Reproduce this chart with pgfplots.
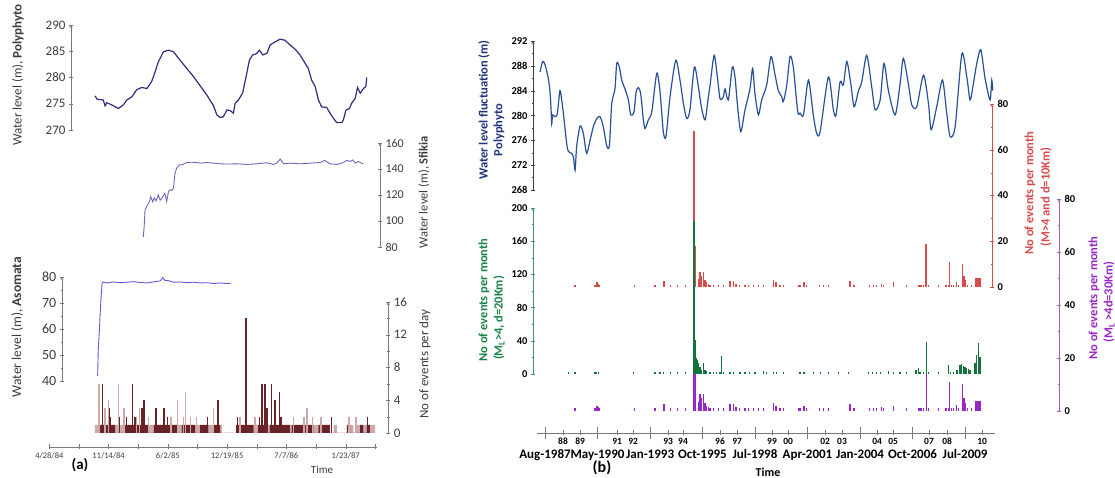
\documentclass[border=0pt]{standalone}
\usepackage{pgfplots}
\pgfplotsset{compat=1.18}
\usepackage{fontspec}
\setmainfont{Carlito}
\newcommand{\fs}[1]{\fontsize{#1}{#1}\selectfont}
\definecolor{txtgray}{RGB}{60,60,60}
\definecolor{axgray}{RGB}{120,120,120}
\definecolor{polyA}{RGB}{55,40,130}
\definecolor{sfik}{RGB}{105,105,185}
\definecolor{asom}{RGB}{105,85,215}
\definecolor{evdark}{RGB}{105,35,40}
\definecolor{evlight}{RGB}{205,170,170}
\definecolor{wlblue}{RGB}{40,80,150}
\definecolor{navy}{RGB}{30,50,125}
\definecolor{evred}{RGB}{215,75,75}
\definecolor{axred}{RGB}{210,80,80}
\definecolor{evgreen}{RGB}{20,115,60}
\definecolor{axgreen}{RGB}{70,145,115}
\definecolor{labgreen}{RGB}{25,130,70}
\definecolor{evpurple}{RGB}{150,40,200}
\definecolor{axpurple}{RGB}{165,90,200}

\pgfplotsset{
  base/.style={scale only axis, anchor=south west, clip=false,
    tick align=outside, axis line style={-},
    /pgf/number format/assume math mode=true, scaled ticks=false,
    major tick length=4pt, minor tick length=2.5pt},
  panel/.style={base, axis x line=none},
  leftp/.style={panel, axis line style={axgray}, tick style={axgray},
    yticklabel style={font=\fs{13}, text=txtgray}},
  rightp/.style={panel, yticklabel style={font=\bfseries\fs{10.5}},
    xmin=1986.954},
}

\begin{document}
\begin{tikzpicture}[x=1pt,y=1pt]
\useasboundingbox (0,0) rectangle (1115,478);

% ---------------- panel (a) ----------------
% Polyphyto
\begin{axis}[leftp, at={(71pt,348pt)}, width=305.8pt, height=105pt,
  xmin=73, xmax=1105, ymin=270, ymax=290, axis y line=left,
  ytick={270,275,280,285,290}]
\addplot[polyA, line width=1.2pt] coordinates {
(154,276.5)(162,275.8)(171,275.8)(182,275.7)(188,274.6)(194,275.2)(210,274.8)
(233,274.1)(250,274.8)(261,275.7)(278,276.3)(295,277.7)(312,278.1)(329,277.9)
(345,279.2)(357,281.1)(368,283.0)(385,284.9)(402,285.2)(419,284.9)(441,283.3)
(464,281.7)(486,280.2)(509,278.4)(531,276.7)(554,274.6)(565,272.9)(576,272.4)
(587,272.5)(599,273.8)(610,273.7)(621,273.2)(627,275.1)(638,275.7)(652,277.0)
(664,280.2)(675,283.3)(686,284.3)(698,284.5)(709,285.2)(720,284.3)(734,284.6)
(745,286.2)(762,286.8)(779,287.3)(795,287.1)(812,286.2)(829,285.4)(846,284.3)
(863,282.7)(874,281.7)(885,279.5)(897,278.3)(908,275.7)(919,274.4)(936,274.3)
(947,273.2)(959,272.2)(970,271.4)(987,271.4)(992,271.9)(1001,273.8)(1013,274.1)
(1020,275.1)(1032,276.0)(1040,278.1)(1049,277.0)(1060,277.9)(1068,278.3)(1071,280.0)};
\end{axis}

% Sfikia
\begin{axis}[leftp, at={(49.33pt,231pt)}, width=330.7pt, height=104pt,
  xmin=0, xmax=1116, ymin=80, ymax=160, axis y line=right,
  ytick={80,100,...,160}, yticklabel style={font=\fs{12}}]
\addplot[sfik, line width=0.9pt] coordinates {
(317,87.7)(320,95.5)(323,108.4)(329,111.5)(338,114.8)(342,118.7)(349,114.8)
(354,117.9)(360,115.5)(368,120.0)(374,116.0)(383,118.7)(390,121.3)(396,115.0)
(402,122.6)(407,124.0)(413,123.5)(419,125.2)(424,136.8)(430,140.7)(438,143.2)
(447,143.2)(464,145.0)(480,145.2)(497,145.0)(509,144.5)(531,145.0)(554,144.5)
(576,144.0)(603,143.8)(632,144.0)(666,143.5)(700,144.0)(734,144.8)(756,143.5)
(767,144.5)(779,147.6)(790,144.0)(812,144.5)(846,144.0)(880,144.5)(914,145.0)
(930,146.6)(947,144.0)(970,143.5)(987,144.5)(1004,146.6)(1015,145.8)(1024,147.0)
(1032,144.5)(1043,145.8)(1060,143.8)};
\end{axis}

% Asomata
\begin{axis}[leftp, at={(61.8pt,97pt)}, width=314.9pt, height=104pt,
  xmin=42, xmax=1105, ymin=40, ymax=80, axis y line=left,
  ytick={40,50,...,80}, minor ytick={45,55,65,75}, yticklabel style={font=\fs{14}}]
\addplot[asom, line width=0.9pt] coordinates {
(163,41.9)(165,51.9)(169,59.6)(171,64.7)(174,71.1)(178,77.7)(182,78.1)(194,77.7)
(216,78.1)(239,77.8)(261,78.0)(284,78.2)(306,77.9)(329,77.7)(351,78.1)(374,78.5)
(383,79.7)(390,78.7)(402,78.6)(419,78.0)(441,78.1)(464,77.8)(486,78.0)(509,77.7)
(531,77.8)(554,77.5)(576,77.7)(599,77.5)(612,77.5)};
\end{axis}

% events per day
\begin{axis}[leftp, at={(49.33pt,45pt)}, width=339pt, height=131pt,
  xmin=0, xmax=1144, ymin=0, ymax=16, axis y line=right,
  ytick={0,4,...,16}, minor ytick={2,6,10,14}]
\addplot[ybar interval, fill=evlight, draw=none] coordinates {
(154,1)(168,0)(222,1)(252,0)(334,1)(353,0)(430,1)(447,0)(492,1)(509,0)(537,1)(554,0)
(576,1)(582,0)(689,1)(705,0)(734,1)(743,0)(812,1)(818,0)(891,1)(908,0)(959,1)(970,0)
(1015,1)(1026,0)(1037,1)(1049,0)(1060,1)(1071,0)(1082,1)(1099,0)};
\addplot[ybar interval, fill=evdark, draw=none] coordinates {
(168,1)(222,0)(252,1)(334,0)(353,1)(430,0)(447,1)(492,0)(509,1)(537,0)(554,1)(576,0)
(630,1)(689,0)(705,1)(734,0)(743,1)(812,0)(818,1)(891,0)(908,1)(947,0)(1004,1)(1015,0)
(1049,1)(1060,0)(1071,1)(1082,0)};
\addplot[ycomb, no marks, evlight, line width=1.5pt] coordinates {
(168,6)(188,3)(199,4)(233,6)(252,3)(295,2)(304,3)(334,2)(410,2)(432,4)(452,2)(460,5)
(477,2)(497,2)(554,3)(644,2)(694,2)(824,2)(860,2)(869,3)(888,2)(916,2)(1011,2)(1035,2)};
\addplot[ycomb, no marks, evdark, line width=1.5pt] coordinates {
(180,6)(203,3)(207,2)(236,2)(261,2)(281,6)(289,2)(312,3)(320,4)(360,3)(385,3)(388,3)
(398,2)(533,2)(570,4)(635,2)(663,14)(709,2)(717,6)(728,6)(734,3)(750,6)(762,4)(776,5)
(782,2)(953,2)(1073,2)};
\end{axis}

% time axis (a)
\begin{axis}[base, at={(49.33pt,31pt)}, width=327.4pt, height=10pt,
  xmin=0, xmax=1105, ymin=0, ymax=1, axis x line=bottom, axis y line=none,
  axis line style={axgray, -}, tick style={axgray}, major tick length=5pt,
  xtick={0,100,...,1100},
  xticklabels={4/28/84,,11/14/84,,6/2/85,,12/19/85,,7/7/86,,1/23/87,},
  xticklabel style={font=\fs{8.5}, text=txtgray}]
\addplot[draw=none] coordinates {(0,0)(1105,1)};
\end{axis}

\node[rotate=90, text=txtgray, font=\fs{13}] at (18,403) {Water level (m), \textbf{Polyphyto}};
\node[rotate=90, text=txtgray, font=\fs{12.5}] at (424,286) {Water level (m), \textbf{Sfikia}};
\node[rotate=90, text=txtgray, font=\fs{13.5}] at (17,151) {Water level (m), \textbf{Asomata}};
\node[rotate=90, text=txtgray, font=\fs{13}] at (425,114) {No of events per day};
\node[text=txtgray, font=\fs{11}] at (322,8) {Time};
\node[font=\bfseries\fs{15}] at (80,13) {(a)};

% ---------------- panel (b) ----------------
% red axis
\begin{axis}[rightp, at={(533pt,191pt)}, width=459pt, height=183pt,
  xmax=2010.90, ymin=0, ymax=80, axis y line=right,
  axis line style={axred}, tick style={axred},
  ytick={0,20,...,80}, minor ytick={10,30,50,70}]
\addplot[ycomb, no marks, evred, line width=1.3pt] coordinates {
(1989.15,1)(1990.19,1)(1990.26,2)(1990.31,2)(1990.36,1.5)(1990.42,1)(1992.24,1)
(1993.32,1)(1993.79,2.5)(1994.14,1)(1994.50,1)(1994.92,1)(1995.35,68)(1995.42,18)
(1995.58,3.5)(1995.67,6.5)(1995.75,5)(1995.84,6.5)(1995.93,3)(1996.01,2)(1996.10,1.5)
(1996.19,1)(1996.36,1)(1996.62,1)(1996.88,1)(1997.23,2.5)(1997.40,2.5)(1997.54,1.5)
(1997.72,1)(1998.01,1)(1998.19,1)(1998.45,1)(1998.71,1)(1998.97,1)(1999.49,3)
(1999.63,2)(1999.84,1)(2000.01,1)(2000.80,1)(2000.88,1)(2001.09,2)(2001.23,1)
(2001.89,1)(2002.10,1)(2002.36,1)(2003.49,2.7)(2003.70,1)(2004.50,1)(2004.71,1)
(2004.88,1)(2005.14,1.5)(2005.23,1)(2005.75,2)(2006.45,1)(2007.06,1)(2007.14,1)
(2007.23,1)(2007.32,1)(2007.46,19)(2007.59,1)(2008.10,1)(2008.50,1)(2008.62,1)
(2008.67,11)(2008.79,1)(2008.88,1)(2009.06,2.3)(2009.14,1)(2009.35,10)(2009.44,5)
(2009.52,3)(2009.63,1)(2009.84,1)(2010.06,3.8)(2010.13,3.8)(2010.20,3.8)(2010.27,3.8)};
\end{axis}

% purple axis
\begin{axis}[rightp, at={(533pt,67pt)}, width=526pt, height=212pt,
  xmax=2014.39, ymin=0, ymax=80, axis y line=right,
  axis line style={axpurple}, tick style={axpurple},
  ytick={0,20,...,80}, minor ytick={10,30,50,70}]
\addplot[ycomb, no marks, evpurple, line width=1.3pt] coordinates {
(1989.15,1)(1990.19,1)(1990.26,2)(1990.31,2)(1990.36,1.5)(1990.42,1)(1992.24,1)
(1993.32,1)(1993.79,2.5)(1994.14,1)(1994.50,1)(1994.92,1)(1995.35,68)(1995.42,18)
(1995.58,3.5)(1995.67,6.5)(1995.75,5)(1995.84,6.5)(1995.93,3)(1996.01,2)(1996.10,1.5)
(1996.19,1)(1996.36,1)(1996.62,1)(1996.88,1)(1997.23,2.5)(1997.40,2.5)(1997.54,1.5)
(1997.72,1)(1998.01,1)(1998.19,1)(1998.45,1)(1998.71,1)(1998.97,1)(1999.49,3)
(1999.63,2)(1999.84,1)(2000.01,1)(2000.80,1)(2000.88,1)(2001.09,2)(2001.23,1)
(2001.89,1)(2002.10,1)(2002.36,1)(2003.49,2.7)(2003.70,1)(2004.50,1)(2004.71,1)
(2004.88,1)(2005.14,1.5)(2005.23,1)(2005.75,2)(2006.45,1)(2007.06,1)(2007.14,1)
(2007.23,1)(2007.32,1)(2007.46,19)(2007.59,1)(2008.10,1)(2008.50,1)(2008.62,1)
(2008.67,11)(2008.79,1)(2008.88,1)(2009.06,2.3)(2009.14,1)(2009.35,10)(2009.44,5)
(2009.52,3)(2009.63,1)(2009.84,1)(2010.06,3.8)(2010.13,3.8)(2010.20,3.8)(2010.27,3.8)};
\end{axis}

% green axis
\begin{axis}[rightp, at={(533pt,104pt)}, width=462pt, height=166pt,
  xmax=2011.05, ymin=0, ymax=200, axis y line=left,
  axis line style={axgreen}, tick style={axgreen},
  ytick={0,40,...,200}, minor ytick={20,60,100,140,180}]
\addplot[ycomb, no marks, evgreen, line width=1.3pt] coordinates {
(1988.80,2)(1989.15,2)(1990.19,2)(1990.28,3)(1990.36,2)(1992.19,2)(1993.32,2)
(1993.58,2)(1993.75,3)(1994.14,2)(1994.50,2)(1994.92,2)(1995.35,184)(1995.41,41)
(1995.46,19)(1995.53,17)(1995.58,13)(1995.67,9)(1995.75,5)(1995.84,13)(1995.93,5)
(1996.01,4)(1996.19,3)(1996.36,3)(1996.54,3)(1996.71,2)(1996.80,22)(1996.88,2)
(1997.23,2)(1997.40,2)(1997.75,2)(1998.01,2)(1998.24,3)(1998.53,2)(1998.97,4)
(1999.14,2)(1999.49,3)(1999.67,2)(2000.01,2)(2000.88,2)(2001.09,3)(2001.58,2)
(2001.93,2)(2002.36,2)(2002.88,2)(2003.40,3)(2004.45,2)(2004.67,2)(2004.88,3)
(2005.06,3)(2005.49,4)(2005.75,2)(2006.10,2)(2006.45,2)(2006.93,5)(2007.06,7)
(2007.14,3)(2007.32,3)(2007.46,39)(2007.58,3)(2008.10,2)(2008.62,11)(2008.71,3)
(2008.88,3)(2009.06,5)(2009.23,11)(2009.32,12)(2009.40,10)(2009.49,8)(2009.58,7)
(2009.66,6)(2009.75,5)(2010.01,13)(2010.10,23)(2010.19,37)(2010.27,21)};
\end{axis}

% water level Polyphyto (b)
\begin{axis}[rightp, at={(533pt,288pt)}, width=462pt, height=149pt,
  xmax=2011.05, ymin=268, ymax=292, axis y line=left,
  axis line style={black!75}, tick style={black!75},
  ytick={268,272,...,292}, minor ytick={270,274,...,290}]
\addplot[wlblue, line width=1.2pt, smooth, tension=0.45] coordinates {
(1987.32,287.0)(1987.46,288.7)(1987.58,288.2)(1987.75,286.0)(1987.84,283.8)(1987.89,281.4)
(1987.93,278.7)(1987.98,280.1)(1988.10,279.8)(1988.22,280.3)(1988.36,284.0)(1988.45,282.5)
(1988.54,280.3)(1988.71,275.5)(1988.80,274.2)(1988.97,273.9)(1989.06,273.4)(1989.15,271.2)
(1989.23,275.0)(1989.41,278.3)(1989.58,277.1)(1989.75,273.9)(1989.93,276.0)(1990.10,278.2)
(1990.28,279.5)(1990.45,279.8)(1990.62,278.2)(1990.80,275.1)(1990.94,275.2)(1991.06,281.9)
(1991.23,284.3)(1991.32,288.4)(1991.46,287.8)(1991.58,285.7)(1991.75,284.3)(1991.93,282.5)
(1992.05,280.1)(1992.22,280.6)(1992.33,283.8)(1992.45,284.5)(1992.57,283.5)(1992.71,279.3)
(1992.80,277.9)(1992.97,279.3)(1993.15,280.6)(1993.41,286.8)(1993.58,283.8)(1993.75,277.4)
(1993.89,276.6)(1994.10,283.0)(1994.40,288.9)(1994.62,285.7)(1994.80,281.9)(1994.97,279.5)
(1995.14,280.9)(1995.37,287.8)(1995.58,284.6)(1995.75,281.1)(1995.93,279.3)(1996.10,283.0)
(1996.19,284.9)(1996.40,289.7)(1996.57,286.2)(1996.71,282.7)(1996.88,283.0)(1996.97,284.3)
(1997.14,282.5)(1997.35,287.8)(1997.49,286.2)(1997.61,281.9)(1997.79,277.4)(1998.01,280.9)
(1998.27,284.3)(1998.41,287.6)(1998.53,283.5)(1998.71,280.1)(1998.88,282.5)(1999.14,284.9)
(1999.37,289.5)(1999.58,286.5)(1999.75,284.0)(1999.93,283.0)(2000.01,282.2)(2000.19,284.9)
(2000.36,289.5)(2000.53,287.8)(2000.76,280.6)(2000.88,280.4)(2001.06,280.1)(2001.32,285.7)
(2001.58,279.9)(2001.75,277.1)(2001.93,277.4)(2002.36,286.2)(2002.62,280.9)(2002.76,280.1)
(2002.97,285.4)(2003.14,284.9)(2003.32,288.7)(2003.53,285.1)(2003.70,281.4)(2003.93,284.0)
(2004.10,285.4)(2004.36,289.7)(2004.62,284.6)(2004.80,280.9)(2005.06,282.5)(2005.26,288.4)
(2005.49,284.0)(2005.84,280.1)(2006.10,285.1)(2006.27,289.2)(2006.53,285.1)(2006.71,281.7)
(2006.97,281.4)(2007.32,286.5)(2007.58,281.9)(2007.72,277.7)(2008.01,281.4)(2008.31,285.7)
(2008.53,280.4)(2008.71,276.6)(2008.97,278.2)(2009.32,289.9)(2009.58,286.2)(2009.75,282.5)
(2009.92,285.1)(2010.10,288.4)(2010.31,290.6)(2010.53,286.0)(2010.79,282.5)(2010.88,285.7)
(2010.93,284.0)};
\end{axis}

% time axis (b)
\begin{axis}[base, at={(537pt,45pt)}, width=458pt, height=10pt,
  xmin=1987.163, xmax=2011.05, ymin=0, ymax=1,
  axis x line=bottom, axis y line=none,
  axis line style={axgray, -}, tick style={axgray}, major tick length=12pt,
  xtick={1987.58,1990.32,1993.06,1995.79,1998.53,2001.27,2004.01,2006.75,2009.49},
  xticklabels={Aug-1987,May-1990,Jan-1993,Oct-1995,Jul-1998,Apr-2001,Jan-2004,Oct-2006,Jul-2009},
  xticklabel style={font=\bfseries\fs{13}, yshift=-7pt},
  extra x ticks={1988.52,1989.41,1991.34,1992.18,1994.00,1994.78,1996.71,1997.60,1999.42,
    2000.26,2002.19,2003.07,2004.90,2005.74,2007.61,2008.55,2010.38},
  extra x tick labels={88,89,91,92,93,94,96,97,99,00,02,03,04,05,07,08,10},
  extra x tick style={major tick length=5pt,
    xticklabel style={font=\bfseries\fs{9.5}, yshift=8pt}}]
\addplot[draw=none] coordinates {(1987.2,0)(2011,1)};
\end{axis}

\node[rotate=90, text=navy, font=\bfseries\fs{12.5}] at (484,368) {Water level fluctuation (m)};
\node[rotate=90, text=navy, font=\bfseries\fs{12.5}] at (499,348) {Polyphyto};
\node[rotate=90, text=labgreen, font=\bfseries\fs{12.5}] at (484,178) {No of events per month};
\node[rotate=90, text=labgreen, font=\bfseries\fs{12.5}] at (499,160) {(M\textsubscript{L}>4, d=20Km)};
\node[rotate=90, text=evred, font=\bfseries\fs{12.5}] at (1030,285) {No of events per month};
\node[rotate=90, text=evred, font=\bfseries\fs{12.5}] at (1046,281) {(M>4 and d=10Km)};
\node[rotate=90, text=evpurple, font=\bfseries\fs{12.5}] at (1094,180) {No of events per month};
\node[rotate=90, text=evpurple, font=\bfseries\fs{12.5}] at (1109,176) {(M\textsubscript{L} >4d=30Km)};
\node[font=\bfseries\fs{16}] at (602,10) {(b)};
\node[font=\bfseries\fs{12}] at (768,6) {Time};
\end{tikzpicture}
\end{document}
